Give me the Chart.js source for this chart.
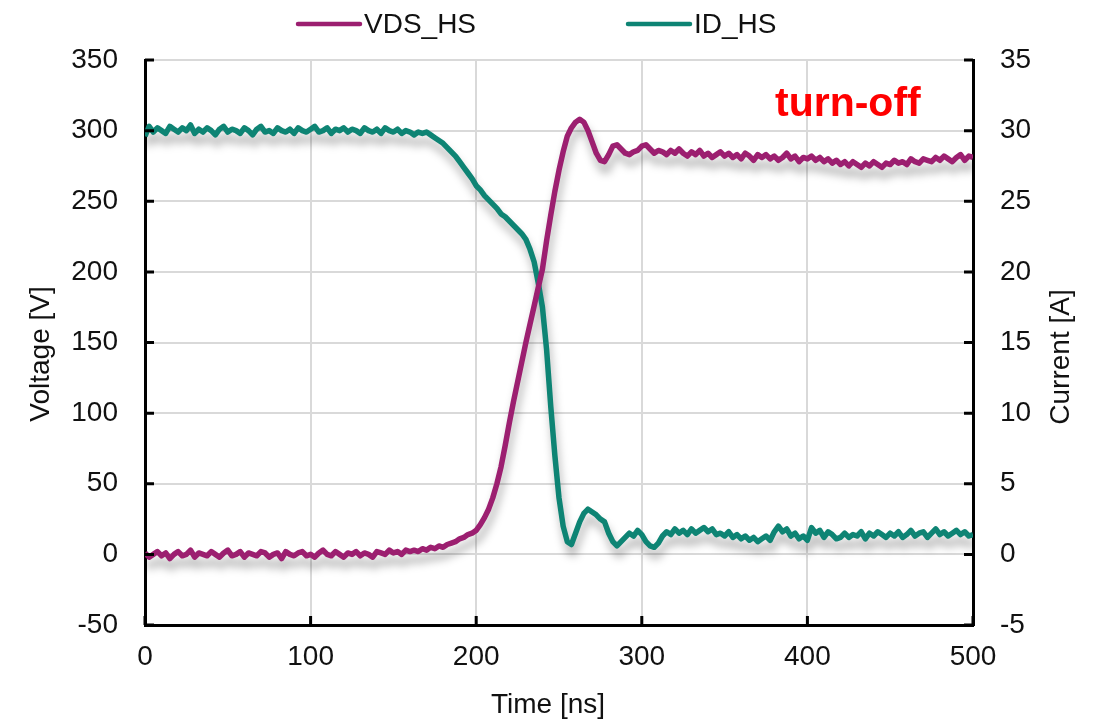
<!DOCTYPE html>
<html>
<head>
<meta charset="utf-8">
<script src="https://cdn.jsdelivr.net/npm/chart.js@4.4.1/dist/chart.umd.min.js"></script>
<style>
  html, body { margin: 0; padding: 0; background: #fff; }
  #wrap { width: 1096px; height: 722px; }
</style>
</head>
<body>
<div id="wrap"><canvas id="chart" width="1096" height="722" style="width:1096px;height:722px"></canvas></div>
<script>
// Sample times [ns]
const TIME = [
  0,2.5,5,7.5,10,12.5,15,17.5,20,22.5,
  25,27.5,30,32.5,35,37.5,40,42.5,45,47.5,
  50,52.5,55,57.5,60,62.5,65,67.5,70,72.5,
  75,77.5,80,82.5,85,87.5,90,92.5,95,97.5,
  100,102.5,105,107.5,110,112.5,115,117.5,120,122.5,
  125,127.5,130,132.5,135,137.5,140,142.5,145,147.5,
  150,152.5,155,157.5,160,162.5,165,167.5,170,172.5,
  175,177.5,180,182.5,185,187.5,190,192.5,195,197.5,
  200,202.5,205,207.5,210,212.5,215,217.5,220,222.5,
  225,227.5,230,232.5,235,237.5,240,242.5,245,247.5,
  250,252.5,255,257.5,260,262.5,265,267.5,270,272.5,
  275,277.5,280,282.5,285,287.5,290,292.5,295,297.5,
  300,302.5,305,307.5,310,312.5,315,317.5,320,322.5,
  325,327.5,330,332.5,335,337.5,340,342.5,345,347.5,
  350,352.5,355,357.5,360,362.5,365,367.5,370,372.5,
  375,377.5,380,382.5,385,387.5,390,392.5,395,397.5,
  400,402.5,405,407.5,410,412.5,415,417.5,420,422.5,
  425,427.5,430,432.5,435,437.5,440,442.5,445,447.5,
  450,452.5,455,457.5,460,462.5,465,467.5,470,472.5,
  475,477.5,480,482.5,485,487.5,490,492.5,495,497.5,
  500
];

// VDS_HS [V]
const VDS_HS = [
  1,-2,0,2,-1,1,-3,0,2,-1,
  0,3,-2,1,0,-1,2,0,-2,1,
  3,-1,0,2,-2,1,0,-1,2,1,
  -2,0,1,-3,2,0,-1,1,2,-1,
  0,-2,1,3,0,-1,2,0,-2,1,
  0,2,-1,1,0,-2,2,1,0,3,
  1,2,0,3,2,3,2,4,3,5,
  4,6,5,7,8,9,11,12,14,15,
  17,21,26,32,40,50,62,77,93,108,
  122,136,150,163,176,189,202,222,240,257,
  272,285,296,302,306,308,306,300,292,284,
  279,278,283,289,290,287,284,283,285,286,
  289,290,287,284,286,285,283,286,284,287,
  284,282,285,283,286,282,284,281,283,285,
  282,284,281,283,280,284,282,279,283,281,
  283,280,282,279,281,284,280,282,278,281,
  280,282,279,281,278,280,277,279,276,278,
  275,278,276,274,277,275,278,276,274,277,
  276,279,277,278,276,280,278,277,280,279,
  278,281,279,282,280,278,281,283,279,282,
  281
];

// ID_HS [A]
const ID_HS = [
  29.6,30.3,29.9,30.2,30.0,29.8,30.3,30.1,29.9,30.2,
  30.0,30.4,29.8,30.1,29.9,30.2,30.0,29.7,30.1,30.3,
  29.9,30.1,30.0,29.8,30.2,30.0,29.7,30.1,30.3,29.9,
  30.0,29.8,30.2,30.0,29.9,30.1,29.8,30.2,30.0,29.9,
  30.1,30.3,29.9,30.0,30.2,29.8,30.1,30.0,30.2,29.9,
  30.1,30.0,29.8,30.2,30.0,29.9,30.1,29.8,30.2,30.0,
  29.9,30.1,29.8,30.0,29.9,29.7,29.9,29.8,29.9,29.7,
  29.5,29.3,29.1,28.8,28.5,28.2,27.8,27.4,27.0,26.6,
  26.1,25.8,25.4,25.1,24.8,24.5,24.1,23.9,23.6,23.3,
  23.0,22.7,22.3,21.6,20.7,19.2,17.5,14.5,10.5,7.0,
  4.0,2.0,0.9,0.7,1.5,2.3,2.9,3.2,3.0,2.8,
  2.5,2.3,1.5,0.9,0.6,0.9,1.2,1.5,1.3,1.7,
  1.4,0.9,0.6,0.5,0.8,1.3,1.6,1.4,1.8,1.5,
  1.7,1.4,1.8,1.5,1.7,1.9,1.6,1.8,1.4,1.5,
  1.3,1.6,1.2,1.4,1.1,1.3,1.0,1.2,0.9,1.1,
  1.3,1.0,1.6,2.0,1.6,1.8,1.3,1.5,1.1,1.3,
  1.0,1.9,1.5,1.7,1.2,1.6,1.4,1.1,1.2,1.5,
  1.2,1.4,1.3,1.6,1.1,1.5,1.3,1.6,1.4,1.2,
  1.5,1.3,1.6,1.2,1.4,1.7,1.3,1.5,1.6,1.2,
  1.5,1.8,1.4,1.6,1.3,1.5,1.7,1.4,1.6,1.3,
  1.4
];

const X_TICKS = [0, 100, 200, 300, 400, 500];
const V_TICKS = [-50, 0, 50, 100, 150, 200, 250, 300, 350];
const I_TICKS = [-5, 0, 5, 10, 15, 20, 25, 30, 35];

const FONT = "'Liberation Sans', Arial, sans-serif";
const VDS_COLOR = '#9c1f70';
const ID_COLOR = '#0e8474';

// blurred grey copy of each trace, shifted down, drawn before the traces
const shadowPlugin = {
  id: 'traceShadow',
  beforeDatasetsDraw(chart) {
    const ctx = chart.ctx;
    const a = chart.chartArea;
    ctx.save();
    ctx.beginPath();
    ctx.rect(a.left, a.top, a.right - a.left, a.bottom - a.top);
    ctx.clip();
    ctx.filter = 'blur(4px)';
    ctx.strokeStyle = 'rgba(0,0,0,0.28)';
    ctx.lineWidth = 6;
    ctx.lineJoin = 'round';
    chart.data.datasets.forEach((ds, i) => {
      const pts = chart.getDatasetMeta(i).data;
      ctx.beginPath();
      pts.forEach((p, k) => k ? ctx.lineTo(p.x + 2, p.y + 9) : ctx.moveTo(p.x + 2, p.y + 9));
      ctx.stroke();
    });
    ctx.restore();
  }
};

// inward tick marks, axis titles, legend, note
const decorPlugin = {
  id: 'decor',
  afterDraw(chart) {
    const ctx = chart.ctx;
    const { x, y, y2 } = chart.scales;
    const a = chart.chartArea;
    ctx.save();
    ctx.strokeStyle = '#000';
    ctx.lineWidth = 3;
    ctx.beginPath();
    V_TICKS.forEach(v => { const p = y.getPixelForValue(v); ctx.moveTo(a.left, p); ctx.lineTo(a.left + 9, p); });
    I_TICKS.forEach(v => { const p = y2.getPixelForValue(v); ctx.moveTo(a.right, p); ctx.lineTo(a.right - 9, p); });
    X_TICKS.forEach(v => { const p = x.getPixelForValue(v); ctx.moveTo(p, a.bottom); ctx.lineTo(p, a.bottom - 9); });
    ctx.stroke();

    // axis titles
    ctx.fillStyle = '#111';
    ctx.font = '28px ' + FONT;
    ctx.textAlign = 'center';
    ctx.textBaseline = 'middle';
    ctx.fillText('Time [ns]', 548, 705);
    ctx.save(); ctx.translate(41, 354); ctx.rotate(-Math.PI / 2); ctx.fillText('Voltage [V]', 0, 0); ctx.restore();
    ctx.save(); ctx.translate(1061, 357); ctx.rotate(-Math.PI / 2); ctx.fillText('Current [A]', 0, 0); ctx.restore();

    // legend
    const items = [[298, 364], [628, 694]];
    chart.data.datasets.forEach((ds, i) => {
      const [lx, tx] = items[i];
      ctx.strokeStyle = ds.borderColor;
      ctx.lineWidth = 4.5;
      ctx.lineCap = 'round';
      ctx.beginPath(); ctx.moveTo(lx, 24); ctx.lineTo(lx + 62, 24); ctx.stroke();
      ctx.fillStyle = '#111';
      ctx.textAlign = 'left';
      ctx.textBaseline = 'alphabetic';
      ctx.fillText(ds.label, tx, 33);
    });

    // annotation
    ctx.fillStyle = '#ff0000';
    ctx.font = 'bold 41px ' + FONT;
    ctx.textAlign = 'left';
    ctx.textBaseline = 'alphabetic';
    ctx.fillText('turn-off', 775, 116);
    ctx.restore();
  }
};

const tickFont = { family: FONT, size: 28 };

new Chart(document.getElementById('chart'), {
  type: 'line',
  data: {
    labels: TIME,
    datasets: [
      { label: 'VDS_HS', data: VDS_HS, borderColor: VDS_COLOR, backgroundColor: VDS_COLOR, borderWidth: 5.5, borderJoinStyle: 'round', pointRadius: 0, tension: 0, yAxisID: 'y' },
      { label: 'ID_HS', data: ID_HS, borderColor: ID_COLOR, backgroundColor: ID_COLOR, borderWidth: 5.5, borderJoinStyle: 'round', pointRadius: 0, tension: 0, yAxisID: 'y2' }
    ]
  },
  options: {
    responsive: false,
    animation: false,
    layout: { padding: { top: 60, left: 0, right: 0, bottom: 0 } },
    plugins: { legend: { display: false }, tooltip: { enabled: false } },
    scales: {
      x: {
        type: 'linear', min: 0, max: 500,
        afterBuildTicks: s => { s.ticks = X_TICKS.map(v => ({ value: v })); },
        afterFit: s => { s.height = 97; },
        grid: { color: '#d9d9d9', lineWidth: 2, drawTicks: false },
        border: { color: '#000', width: 3 },
        ticks: { font: tickFont, color: '#111', padding: 15, maxRotation: 0 }
      },
      y: {
        position: 'left', min: -50, max: 350,
        afterBuildTicks: s => { s.ticks = V_TICKS.map(v => ({ value: v })); },
        afterFit: s => { s.width = 145; },
        grid: { color: '#d9d9d9', lineWidth: 2, drawTicks: false },
        border: { color: '#000', width: 3 },
        ticks: { font: tickFont, color: '#111', padding: 27 }
      },
      y2: {
        position: 'right', min: -5, max: 35,
        afterBuildTicks: s => { s.ticks = I_TICKS.map(v => ({ value: v })); },
        afterFit: s => { s.width = 123; },
        grid: { display: false, drawTicks: false },
        border: { color: '#000', width: 3 },
        ticks: { font: tickFont, color: '#111', padding: 27 }
      }
    }
  },
  plugins: [shadowPlugin, decorPlugin]
});
</script>
</body>
</html>
